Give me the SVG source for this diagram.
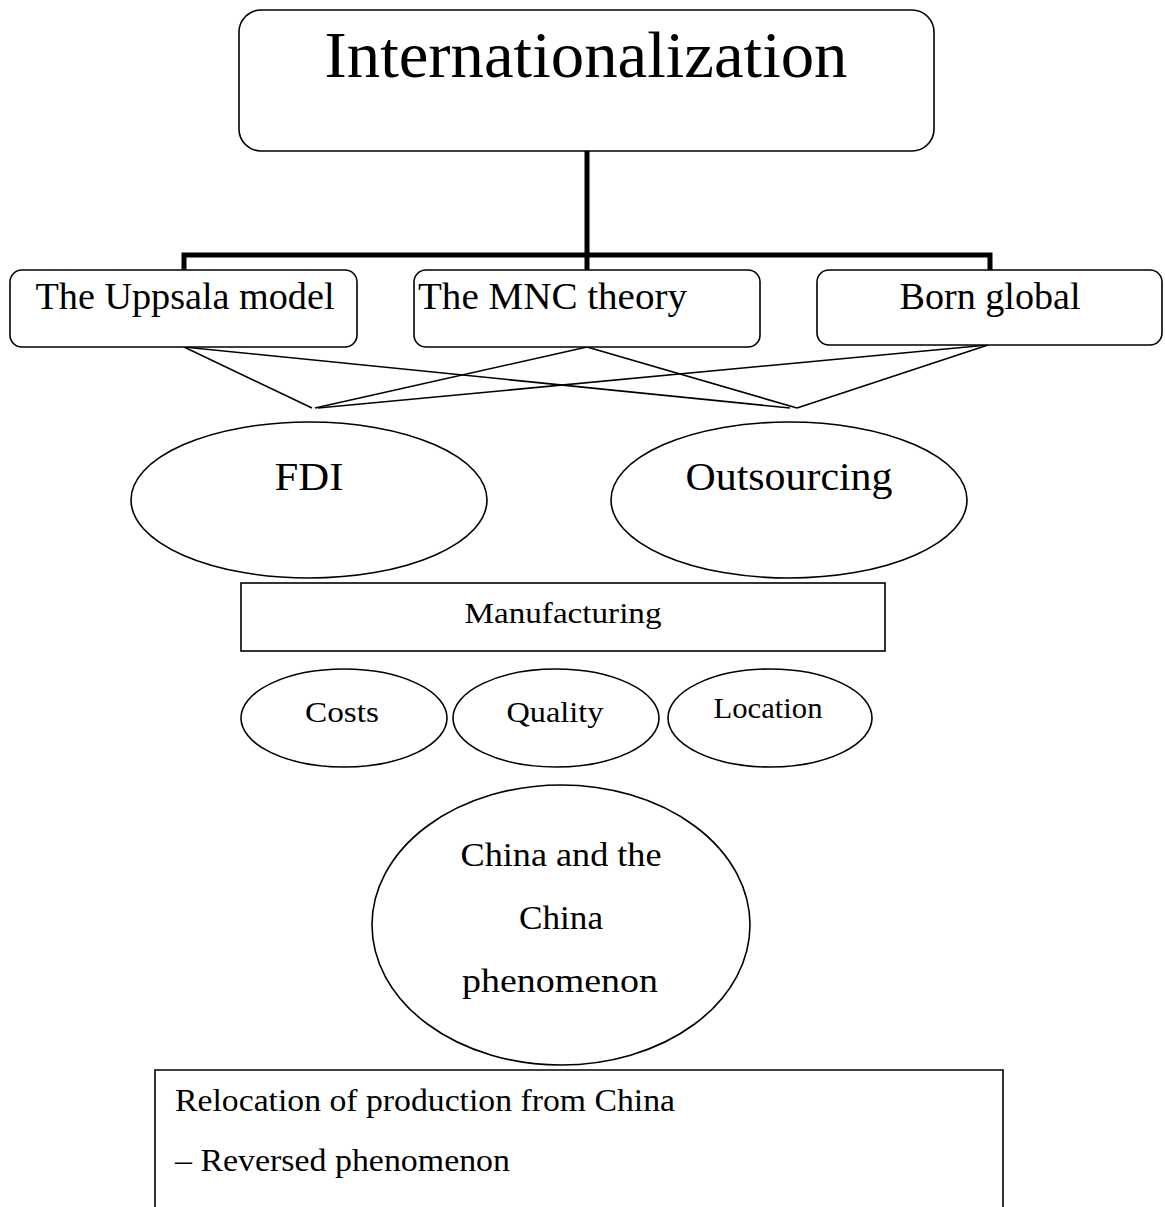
<svg xmlns="http://www.w3.org/2000/svg" width="1165" height="1207" viewBox="0 0 1165 1207">
<style>
  .shape { fill: #ffffff; stroke: #000000; stroke-width: 1.6; }
  .thin { fill: none; stroke: #000000; stroke-width: 1.6; }
  .thick { fill: none; stroke: #000000; stroke-width: 5; }
  text { font-family: "Liberation Serif", "Times New Roman", serif; fill: #000000; }
  .mid { text-anchor: middle; }
</style>
<rect width="1165" height="1207" fill="#ffffff"/>
<g id="connectors">
  <path class="thick" d="M587,151 V270"/>
  <path class="thick" d="M184,270 V255 H990 V270"/>
  <line class="thin" x1="184" y1="347" x2="312" y2="408"/>
  <line class="thin" x1="184" y1="347" x2="790" y2="408"/>
  <line class="thin" x1="587" y1="347" x2="315" y2="408"/>
  <line class="thin" x1="587" y1="347" x2="797" y2="408"/>
  <line class="thin" x1="988" y1="345" x2="318" y2="408"/>
  <line class="thin" x1="988" y1="345" x2="797" y2="408"/>
</g>
<g id="internationalization">
  <rect class="shape" x="239" y="10" width="695" height="141" rx="22" ry="22"/>
  <text class="mid" x="586" y="77" font-size="66" textLength="523" lengthAdjust="spacingAndGlyphs">Internationalization</text>
</g>
<g id="uppsala">
  <rect class="shape" x="10" y="270" width="347" height="77" rx="12" ry="12"/>
  <text class="mid" x="185" y="309" font-size="37" textLength="299" lengthAdjust="spacingAndGlyphs">The Uppsala model</text>
</g>
<g id="mnc">
  <rect class="shape" x="414" y="270" width="346" height="77" rx="12" ry="12"/>
  <text x="418" y="309" font-size="37" textLength="269" lengthAdjust="spacingAndGlyphs">The MNC theory</text>
</g>
<g id="born-global">
  <rect class="shape" x="817" y="270" width="345" height="75" rx="12" ry="12"/>
  <text class="mid" x="990" y="309" font-size="37" textLength="181" lengthAdjust="spacingAndGlyphs">Born global</text>
</g>
<g id="fdi">
  <ellipse class="shape" cx="309" cy="500" rx="178" ry="78"/>
  <text class="mid" x="309" y="490" font-size="40" textLength="69" lengthAdjust="spacingAndGlyphs">FDI</text>
</g>
<g id="outsourcing">
  <ellipse class="shape" cx="789" cy="500" rx="178" ry="78"/>
  <text class="mid" x="789" y="490" font-size="40" textLength="207" lengthAdjust="spacingAndGlyphs">Outsourcing</text>
</g>
<g id="manufacturing">
  <rect class="shape" x="241" y="583" width="644" height="68"/>
  <text class="mid" x="563" y="623" font-size="30" textLength="197" lengthAdjust="spacingAndGlyphs">Manufacturing</text>
</g>
<g id="costs">
  <ellipse class="shape" cx="344" cy="718" rx="103" ry="49"/>
  <text class="mid" x="342" y="722" font-size="29" textLength="74" lengthAdjust="spacingAndGlyphs">Costs</text>
</g>
<g id="quality">
  <ellipse class="shape" cx="556" cy="718" rx="103" ry="49"/>
  <text class="mid" x="555" y="722" font-size="29" textLength="97" lengthAdjust="spacingAndGlyphs">Quality</text>
</g>
<g id="location">
  <ellipse class="shape" cx="770" cy="718" rx="102" ry="49"/>
  <text class="mid" x="768" y="718" font-size="29" textLength="109" lengthAdjust="spacingAndGlyphs">Location</text>
</g>
<g id="china">
  <ellipse class="shape" cx="561" cy="925" rx="189" ry="140"/>
  <text class="mid" x="561" y="866" font-size="33" textLength="201" lengthAdjust="spacingAndGlyphs">China and the</text>
  <text class="mid" x="561" y="929" font-size="33" textLength="84" lengthAdjust="spacingAndGlyphs">China</text>
  <text class="mid" x="560" y="992" font-size="33" textLength="196" lengthAdjust="spacingAndGlyphs">phenomenon</text>
</g>
<g id="relocation">
  <path class="thin" d="M155,1210 V1070 H1003 V1210"/>
  <text x="175" y="1111" font-size="32" textLength="500" lengthAdjust="spacingAndGlyphs">Relocation of production from China</text>
  <text x="175" y="1171" font-size="32" textLength="335" lengthAdjust="spacingAndGlyphs">– Reversed phenomenon</text>
</g>
</svg>
